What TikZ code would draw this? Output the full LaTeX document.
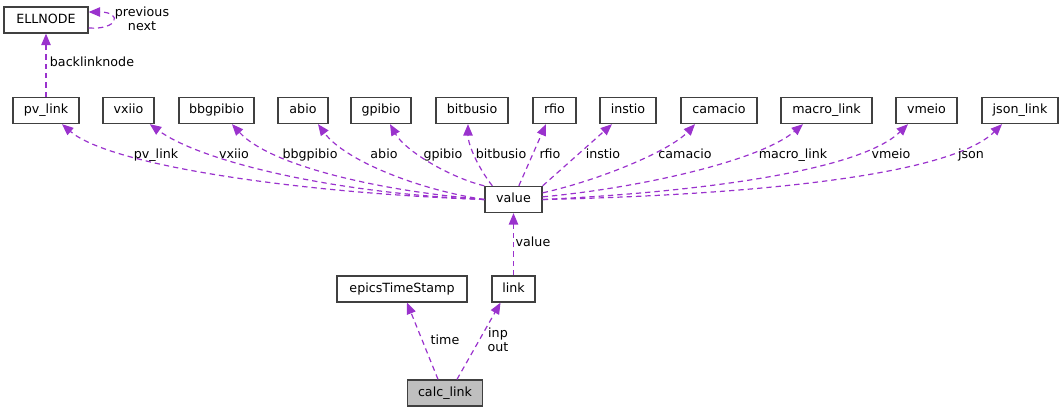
\documentclass[tikz,border=0pt]{standalone}
\usepackage{fontspec}
\setmainfont{DejaVu Sans}
\usetikzlibrary{arrows.meta}
\definecolor{relcol}{HTML}{9A32CD}
\definecolor{boxline}{HTML}{404040}
\definecolor{focus}{HTML}{BFBFBF}

\begin{document}
\begin{tikzpicture}[x=0.75pt, y=-0.75pt,
  every node/.style={font=\fontsize{9.5pt}{10.5pt}\selectfont, text height=7pt, text depth=2pt},
  cls/.style={draw=boxline, line width=1pt, fill=white, inner sep=0pt, minimum height=19.5pt, minimum width=#1*0.75pt},
  rel/.style={draw=relcol, line width=0.9pt, dash pattern=on 4pt off 3pt, -{Triangle[length=8.5pt,width=7pt]}},
  lbl/.style={inner sep=0pt, align=center}]
\useasboundingbox (0,0) rectangle (1063,412);
% classes
\node [cls=84] (ellnode) at (46,20) {ELLNODE};
\node [cls=66] (pvlink) at (46,110.5) {pv\_link};
\node [cls=51] (vxiio) at (128.5,110.5) {vxiio};
\node [cls=75] (bbgpibio) at (216.5,110.5) {bbgpibio};
\node [cls=50] (abio) at (303,110.5) {abio};
\node [cls=60] (gpibio) at (381,110.5) {gpibio};
\node [cls=72] (bitbusio) at (472,110.5) {bitbusio};
\node [cls=43] (rfio) at (554.5,110.5) {rfio};
\node [cls=56] (instio) at (628,110.5) {instio};
\node [cls=76] (camacio) at (719,110.5) {camacio};
\node [cls=91] (macrolink) at (826.5,110.5) {macro\_link};
\node [cls=61] (vmeio) at (926.5,110.5) {vmeio};
\node [cls=76] (jsonlink) at (1020,110.5) {json\_link};
\node [cls=57] (value) at (513.5,199.5) {value};
\node [cls=43] (link) at (513.5,289) {link};
\node [cls=130] (epicsts) at (402,289) {epicsTimeStamp};
\node [cls=75, fill=focus] (calclink) at (445,393) {calc\_link};
% self loop and straight ones
\draw [rel] ([yshift=-6pt]ellnode.east) .. controls +(30,2) and +(34,0) .. ([yshift=6pt]ellnode.east);
\node [lbl] (l-prev) at (142,27.5) {previous\\next};
\draw [rel] (pvlink.north) -- (ellnode.south);
\node [lbl] (l-back) at (92,63.5) {backlinknode};
\draw [rel] (link.north) -- (value.south);
\node [lbl] (l-value) at (533,243) {value};
\draw [rel] ([xshift=-5.25pt]calclink.north) -- ([xshift=3.75pt]epicsts.south);
\node [lbl] (l-time) at (445,341) {time};
\draw [rel] ([xshift=9pt]calclink.north) -- ([xshift=-9.75pt]link.south);
\node [lbl] (l-inp) at (498,348.5) {inp\\out};
% value to the io structs
\draw [rel] (value.west) .. controls +(-185,-6.5) and +(48,41.5) .. ([xshift=12pt]pvlink.south);
\node [lbl] (l-pvlink) at (156,155) {pv\_link};
\draw [rel] (value.west) .. controls +(-155,-6.5) and +(50,36.5) .. ([xshift=16pt]vxiio.south);
\node [lbl] (l-vxiio) at (234,155) {vxiio};
\draw [rel] (value.west) .. controls +(-105,-8.5) and +(38,41.5) .. ([xshift=11.6pt]bbgpibio.south);
\node [lbl] (l-bbgpibio) at (310,155) {bbgpibio};
\draw [rel] (value.west) .. controls +(-65,-9.5) and +(27,36.5) .. ([xshift=11.25pt]abio.south);
\node [lbl] (l-abio) at (384,155) {abio};
\draw [rel] (value.north west) .. controls +(-35,-8.5) and +(15,26.5) .. ([xshift=6.75pt]gpibio.south);
\node [lbl] (l-gpibio) at (443,155) {gpibio};
\draw [rel] ([xshift=6pt]value.north west) .. controls +(-13,-16.5) and +(0,21.5) .. ([xshift=-3pt]bitbusio.south);
\node [lbl] (l-bitbusio) at (501,155) {bitbusio};
\draw [rel] ([xshift=4pt]value.north) -- ([xshift=-6.4pt]rfio.south);
\node [lbl] (l-rfio) at (550,155) {rfio};
\draw [rel] (value.north east) -- ([xshift=-12pt]instio.south);
\node [lbl] (l-instio) at (603,155) {instio};
\draw [rel] ([yshift=5pt]value.east) .. controls +(58,-13) and +(-25,26.5) .. ([xshift=-18pt]camacio.south);
\node [lbl] (l-camacio) at (685,155) {camacio};
\draw [rel] ([yshift=2pt]value.east) .. controls +(98,-9) and +(-43,36.5) .. ([xshift=-17.6pt]macrolink.south);
\node [lbl] (l-macrolink) at (793,155) {macro\_link};
\draw [rel] (value.east) .. controls +(158,-7.5) and +(-48,46.5) .. ([xshift=-13.9pt]vmeio.south);
\node [lbl] (l-vmeio) at (891,155) {vmeio};
\draw [rel] (value.east) .. controls +(208,-4.5) and +(-52,51.5) .. ([xshift=-13.5pt]jsonlink.south);
\node [lbl] (l-json) at (971,155) {json};
\end{tikzpicture}
\end{document}
